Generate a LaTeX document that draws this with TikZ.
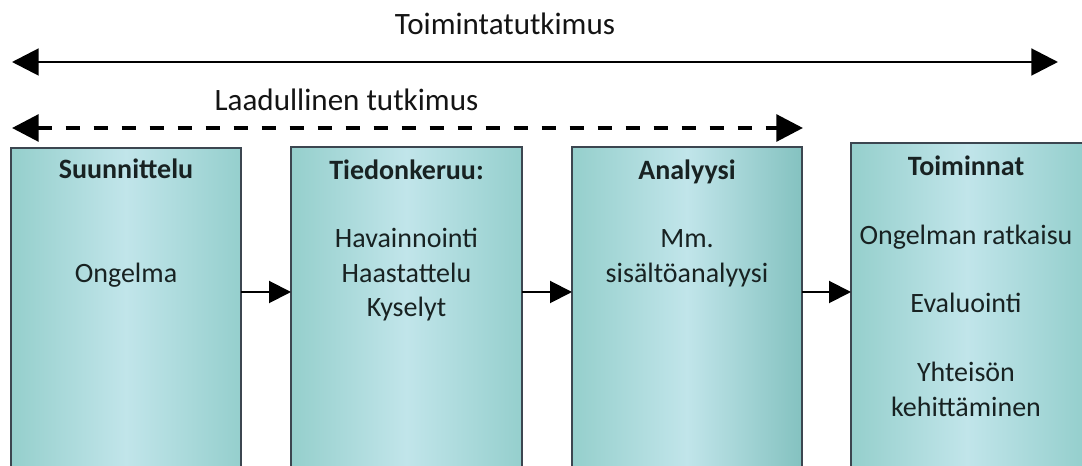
\documentclass[tikz,border=0pt]{standalone}
\usepackage{fontspec}
\setmainfont{Carlito}
\usetikzlibrary{arrows.meta,calc}
\definecolor{edgeL}{HTML}{95CFCC}
\definecolor{edgeR}{HTML}{95CFCD}
\definecolor{edgeR3}{HTML}{84C2C0}
\definecolor{midC}{HTML}{C1E5EA}
\definecolor{borderC}{HTML}{3C4650}
\definecolor{boxtext}{HTML}{182222}
\tikzset{
  box/.style={draw=borderC, line width=1.2pt, rectangle, inner sep=0pt, outer sep=0pt,
    left color=edgeL, right color=edgeR, middle color=midC, anchor=north west},
  boxtitle/.style={font=\fontsize{21}{24}\selectfont\bfseries, text=boxtext, anchor=base, inner sep=0pt},
  boxline/.style={font=\fontsize{21}{24}\selectfont, text=boxtext, anchor=base, inner sep=0pt},
  toplabel/.style={font=\fontsize{23.3}{27}\selectfont, text=black!92, anchor=base, inner sep=0pt},
  conn/.style={line width=1.5pt, -{Triangle[length=16.5pt,width=16.5pt]}},
  span/.style={line width=2.2pt, {Triangle[length=20pt,width=20pt]}-{Triangle[length=20pt,width=20pt]}},
  spandash/.style={line width=3pt, dash pattern=on 10.5pt off 10.5pt,
    {Triangle[length=20pt,width=20pt]}-{Triangle[length=20pt,width=20pt]}}
}
\begin{document}
\begin{tikzpicture}[x=0.75pt,y=-0.75pt]
\useasboundingbox (0,0) rectangle (1082,466);
\fill[white] (0,0) rectangle (1082,466);
\clip (0,0) rectangle (1082,466);

% spans
\coordinate (tl) at (12,62);
\coordinate (tr) at (1058,62);
\coordinate (dl) at (12,128);
\coordinate (dr) at (803,128);
\draw[span] (tl) -- (tr);
\draw[spandash] (dl) -- (dr);
\node[toplabel] (lab1) at (505,35) {Toimintatutkimus};
\node[toplabel] (lab2) at (346.5,111) {Laadullinen tutkimus};

% boxes
\node[box, minimum width=172.5pt, minimum height=250pt] (b1) at (11,148) {};
\node[box, minimum width=173.25pt, minimum height=250pt] (b2) at (291,147) {};
\node[box, right color=edgeR3, middle color=midC, minimum width=172.5pt, minimum height=250pt] (b3) at (572,147) {};
\node[box, minimum width=174pt, minimum height=250pt] (b4) at (851,143) {};

% texts
\node[boxtitle] (t1) at (126,179) {Suunnittelu};
\node[boxline] (c1) at (126,283) {Ongelma};

\node[boxtitle] (t2) at (406.5,180) {Tiedonkeruu:};
\node[boxline] (c2a) at (406.5,248) {Havainnointi};
\node[boxline] (c2b) at (406.5,283) {Haastattelu};
\node[boxline] (c2c) at (406.5,317) {Kyselyt};

\node[boxtitle] (t3) at (687,180) {Analyysi};
\node[boxline] (c3a) at (687,248) {Mm.};
\node[boxline] (c3b) at (687,283) {sisältöanalyysi};

\node[boxtitle] (t4) at (966,176) {Toiminnat};
\node[boxline] (c4a) at (966,245) {Ongelman ratkaisu};
\node[boxline] (c4b) at (966,313) {Evaluointi};
\node[boxline] (c4c) at (966,382) {Yhteisön};
\node[boxline] (c4d) at (966,417) {kehittäminen};

% connectors
\draw[conn] ([yshift=-108pt]b1.north east) -- ([yshift=-108pt]b1.north east -| b2.west);
\draw[conn] ([yshift=-108.75pt]b2.north east) -- ([yshift=-108.75pt]b2.north east -| b3.west);
\draw[conn] ([yshift=-108.75pt]b3.north east) -- ([yshift=-108.75pt]b3.north east -| b4.west);
\end{tikzpicture}
\end{document}
